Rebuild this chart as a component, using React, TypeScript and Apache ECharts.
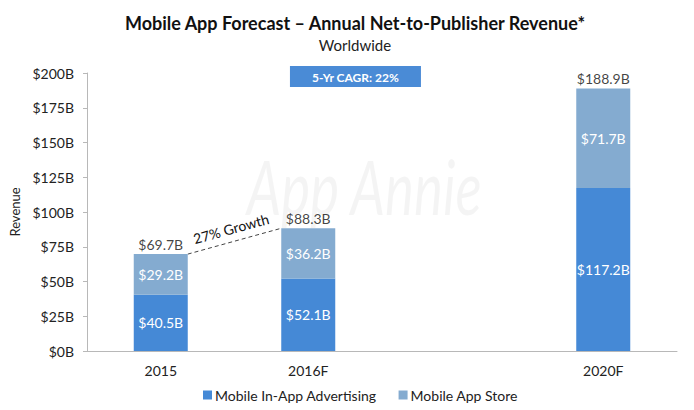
import React, { useEffect, useRef } from "react";
import * as echarts from "echarts";

const categories = ["2015", "2016F", "", "2020F"];
const advertising: (number | null)[] = [40.5, 52.1, null, 117.2];
const appStore: (number | null)[] = [29.2, 36.2, null, 71.7];
const totals: (number | null)[] = [69.7, 88.3, null, 188.9];
const seriesNames = ["Mobile In-App Advertising", "Mobile App Store"];
const growthLabel = "27% Growth";
const cagrLabel = "5-Yr CAGR: 22%";
const watermark = "App Annie";

const FONT = "Lato, 'Open Sans', sans-serif";
const BAR_W = 54;

export default function App() {
  const ref = useRef<HTMLDivElement>(null);
  useEffect(() => {
    if (!ref.current) return;
    const chart = echarts.init(ref.current, null, { renderer: "svg" });
    const fmt = (v: number) => "$" + v.toFixed(1) + "B";
    chart.setOption({
      animation: false,
      textStyle: { fontFamily: FONT },
      title: {
        text: "Mobile App Forecast – Annual Net-to-Publisher Revenue*",
        subtext: "Worldwide",
        left: 350,
        textAlign: "center",
        top: 9,
        itemGap: 5,
        textStyle: { fontFamily: FONT, fontSize: 18, fontWeight: "bold", color: "#111" },
        subtextStyle: { fontFamily: FONT, fontSize: 15, color: "#222" },
      },
      legend: {
        bottom: 3,
        left: 198,
        itemWidth: 9,
        itemHeight: 9,
        itemGap: 22,
        icon: "rect",
        textStyle: { fontFamily: FONT, fontSize: 14, color: "#222", padding: [0, 0, 0, -2] },
        data: seriesNames,
      },
      grid: { left: 84, right: 17, top: 73, bottom: 59 },
      xAxis: {
        type: "category",
        data: categories,
        axisLine: { lineStyle: { color: "#b8b8b8" } },
        axisTick: { show: false },
        axisLabel: { fontFamily: FONT, fontSize: 14, color: "#222", margin: 12 },
      },
      yAxis: {
        type: "value",
        min: 0,
        max: 200,
        interval: 25,
        name: "Revenue",
        nameLocation: "middle",
        nameGap: 66,
        nameTextStyle: { fontFamily: FONT, fontSize: 13, color: "#222" },
        axisLine: { show: true, lineStyle: { color: "#b8b8b8" } },
        axisTick: { show: true, length: 4, lineStyle: { color: "#b8b8b8" } },
        splitLine: { show: false },
        axisLabel: {
          fontFamily: FONT,
          fontSize: 14,
          color: "#222",
          margin: 13,
          formatter: (v: number) => "$" + v + "B",
        },
      },
      series: [
        {
          name: seriesNames[0],
          type: "bar",
          stack: "rev",
          barWidth: BAR_W,
          data: advertising,
          itemStyle: { color: "#4589d6" },
          label: {
            show: true,
            position: "inside",
            color: "#fff",
            fontFamily: FONT,
            fontSize: 14,
            formatter: (p: any) => fmt(p.value),
          },
        },
        {
          name: seriesNames[1],
          type: "bar",
          stack: "rev",
          barWidth: BAR_W,
          data: appStore,
          itemStyle: { color: "#84abd0" },
          label: {
            show: true,
            position: "inside",
            color: "#fff",
            fontFamily: FONT,
            fontSize: 14,
            formatter: (p: any) => fmt(p.value),
          },
        },
        {
          name: "Total",
          type: "scatter",
          data: totals,
          symbolSize: 0,
          silent: true,
          label: {
            show: true,
            position: "top",
            distance: 3,
            color: "#111",
            fontFamily: FONT,
            fontSize: 14,
            formatter: (p: any) => fmt(p.value),
          },
        },
      ],
    });

    const p1 = chart.convertToPixel({ seriesIndex: 0 }, [0, totals[0] as number]) as number[];
    const p2 = chart.convertToPixel({ seriesIndex: 0 }, [1, totals[1] as number]) as number[];
    const c2 = chart.convertToPixel({ seriesIndex: 0 }, [2, 0]) as number[];
    const x1 = p1[0] + BAR_W / 2;
    const y1 = p1[1];
    const x2 = p2[0] - BAR_W / 2;
    const y2 = p2[1];
    const ang = Math.atan2(y1 - y2, x2 - x1);
    const mx = (x1 + x2) / 2;
    const my = (y1 + y2) / 2;
    const topY = chart.convertToPixel({ yAxisIndex: 0 }, 200) as number;
    const wmY = chart.convertToPixel({ yAxisIndex: 0 }, 119) as number;
    const boxCx = p2[0] + (c2[0] - p2[0]) * 0.32;
    const wmX = p2[0] + (c2[0] - p2[0]) * 0.38;
    const off = 13;

    chart.setOption({
      graphic: [
        {
          type: "text",
          x: wmX,
          y: wmY,
          z: -10,
          scaleX: 0.72,
          silent: true,
          style: {
            text: watermark,
            font: "italic 76px " + FONT,
            fill: "rgba(0,0,0,0.045)",
            align: "center",
            verticalAlign: "middle",
          },
        },
        {
          type: "line",
          shape: { x1, y1, x2, y2 },
          style: { stroke: "#444", lineWidth: 1, lineDash: [4, 3] },
          silent: true,
        },
        {
          type: "text",
          x: mx - off * Math.sin(ang),
          y: my - off * Math.cos(ang),
          rotation: ang,
          silent: true,
          style: {
            text: growthLabel,
            font: "14px " + FONT,
            fill: "#111",
            align: "center",
            verticalAlign: "middle",
          },
        },
        {
          type: "group",
          x: boxCx,
          y: topY - 7,
          children: [
            {
              type: "rect",
              shape: { x: -65.5, y: 0, width: 131, height: 21 },
              style: { fill: "#4a8bd6" },
            },
            {
              type: "text",
              x: 0,
              y: 11,
              style: {
                text: cagrLabel,
                font: "bold 12px " + FONT,
                fill: "#fff",
                align: "center",
                verticalAlign: "middle",
              },
            },
          ],
        },
      ],
    });
    return () => chart.dispose();
  }, []);
  return <div ref={ref} style={{ width: 694, height: 410, position: "absolute", left: 0, top: 0 }} />;
}
